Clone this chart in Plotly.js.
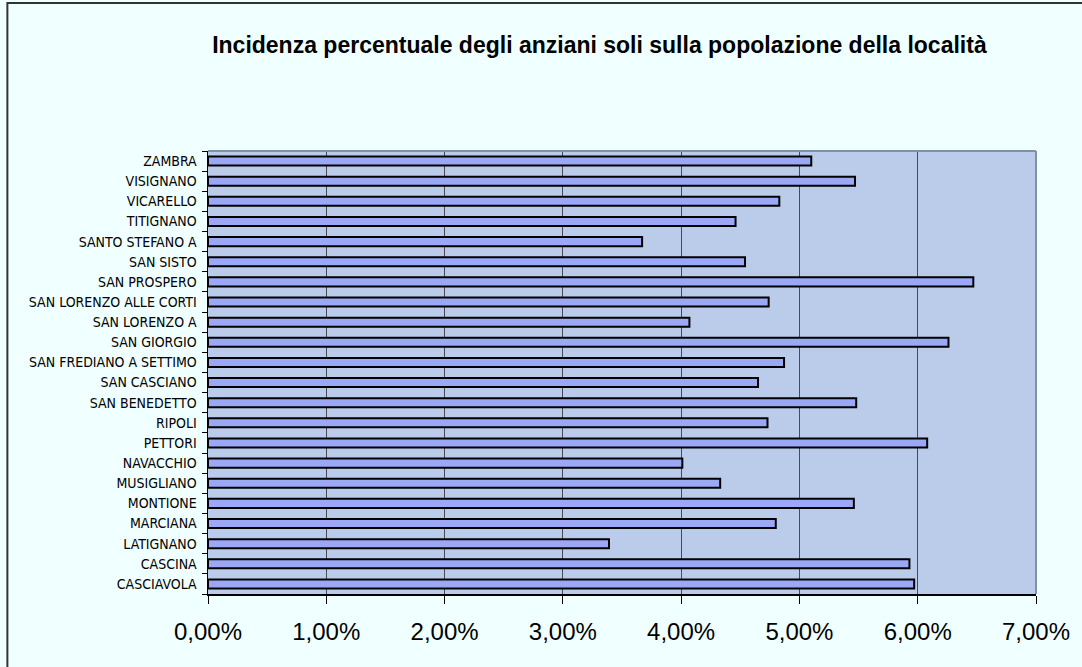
<!DOCTYPE html>
<html>
<head>
<meta charset="utf-8">
<script src="https://cdn.plot.ly/plotly-3.0.1.min.js"></script>
<style>
html,body{margin:0;padding:0;background:#F0FFFF;}
#chart{width:1082px;height:667px;}
</style>
</head>
<body>
<div id="chart"></div>
<script>
// Categories listed bottom to top
const localita = [
  "CASCIAVOLA", "CASCINA", "LATIGNANO", "MARCIANA", "MONTIONE", "MUSIGLIANO",
  "NAVACCHIO", "PETTORI", "RIPOLI", "SAN BENEDETTO", "SAN CASCIANO",
  "SAN FREDIANO A SETTIMO", "SAN GIORGIO", "SAN LORENZO A", "SAN LORENZO ALLE CORTI",
  "SAN PROSPERO", "SAN SISTO", "SANTO STEFANO A", "TITIGNANO", "VICARELLO",
  "VISIGNANO", "ZAMBRA"
];
const incidenza = [
  0.0597, 0.0593, 0.0339, 0.0480, 0.0546, 0.0433,
  0.0401, 0.0608, 0.0473, 0.0548, 0.0465,
  0.0487, 0.0626, 0.0407, 0.0474,
  0.0647, 0.0454, 0.0367, 0.0446, 0.0483,
  0.0547, 0.0510
];
const xTicks = [0, 0.01, 0.02, 0.03, 0.04, 0.05, 0.06, 0.07];
const titolo = "Incidenza percentuale degli anziani soli sulla popolazione della località";

const trace = {
  type: "bar",
  orientation: "h",
  y: localita,
  x: incidenza,
  marker: {color: "#9AA8F6", line: {color: "#000000", width: 2}},
  hoverinfo: "x+y"
};

const layout = {
  width: 1082,
  height: 667,
  paper_bgcolor: "#F0FFFF",
  plot_bgcolor: "#BBCCEA",
  separators: ",.",
  margin: {l: 208, r: 46, t: 151, b: 73, pad: 0},
  bargap: 0.55,
  showlegend: false,
  title: {
    text: "<b>" + titolo + "</b>",
    font: {family: "Liberation Sans, Arial, sans-serif", size: 23, color: "#000000"},
    x: 0.554, xanchor: "center",
    y: 0.933, yanchor: "middle"
  },
  xaxis: {
    range: [0, 0.07],
    tickvals: xTicks,
    tickformat: ".2%",
    ticks: "outside",
    ticklen: 8,
    tickwidth: 1,
    tickcolor: "#000000",
    showgrid: true,
    gridcolor: "#4A4A55",
    gridwidth: 1,
    zeroline: false,
    showline: true,
    linecolor: "#000000",
    linewidth: 1.5,
    ticklabelstandoff: 8,
    tickfont: {family: "Liberation Sans, Arial, sans-serif", size: 24, color: "#000000"},
    fixedrange: true
  },
  yaxis: {
    type: "category",
    ticks: "outside",
    tickson: "boundaries",
    ticklen: 5,
    tickwidth: 1,
    tickcolor: "#000000",
    showgrid: false,
    showline: true,
    linecolor: "#000000",
    linewidth: 1.5,
    ticklabelstandoff: 7,
    tickfont: {family: "Liberation Sans Narrow, Arial Narrow, DejaVu Sans Condensed, sans-serif", size: 14, color: "#000000"},
    fixedrange: true
  },
  shapes: [
    {type: "line", xref: "paper", yref: "paper", x0: 0, x1: 1, y0: 1, y1: 1,
     line: {color: "#8090A8", width: 2}},
    {type: "line", xref: "paper", yref: "paper", x0: 1, x1: 1, y0: 0, y1: 1,
     line: {color: "#8090A8", width: 2}},
    {type: "rect", xref: "paper", yref: "paper", x0: -0.2423, x1: 1.3, y0: -0.3, y1: 1.334,
     line: {color: "#333333", width: 2}, layer: "above"}
  ]
};

Plotly.newPlot("chart", [trace], layout, {displayModeBar: false, staticPlot: true});
</script>
</body>
</html>
